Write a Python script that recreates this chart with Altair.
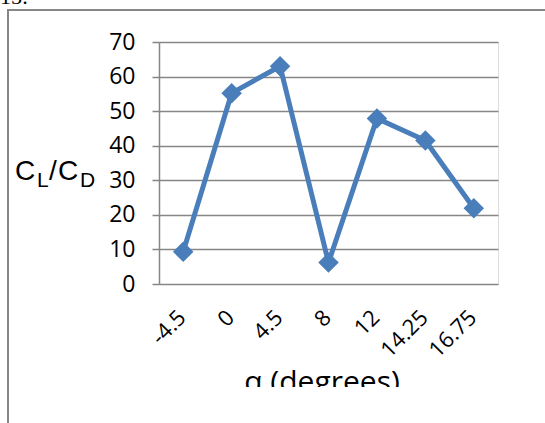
import altair as alt
import pandas as pd

alpha = ["-4.5", "0", "4.5", "8", "12", "14.25", "16.75"]
ratio = [9.3, 55.2, 63.0, 6.2, 47.9, 41.5, 21.9]
y_ticks = [0, 10, 20, 30, 40, 50, 60, 70]

df = pd.DataFrame({"alpha": alpha, "ratio": ratio})

FONT = "Open Sans"
GRAY = "#868686"
BLUE = "#4A7EBB"
W, H = 339, 242
BAND = W / len(alpha)

x_enc = alt.X(
    "alpha:N",
    sort=alpha,
    scale=alt.Scale(type="band", paddingInner=0, paddingOuter=0),
    axis=alt.Axis(
        title=None, tickBand="extent", grid=False, labels=False,
        domainColor=GRAY, domainWidth=1.5, tickColor=GRAY, tickWidth=1.5, tickSize=7,
    ),
)
y_enc = alt.Y(
    "ratio:Q",
    scale=alt.Scale(domain=[0, 70], nice=False, zero=True),
    axis=alt.Axis(
        title=None, values=y_ticks, grid=True, gridColor=GRAY, gridWidth=1.5,
        domainColor=GRAY, domainWidth=1.5, tickColor=GRAY, tickWidth=1.5, tickSize=7,
        labelFont=FONT, labelFontSize=23, labelColor="black", labelPadding=17,
    ),
)

base = alt.Chart(df)
line = base.mark_line(color=BLUE, strokeWidth=5).encode(x=x_enc, y=y_enc)
pts = base.mark_point(shape="diamond", filled=True, color=BLUE, size=420, opacity=1).encode(x=x_enc, y=y_enc)

xlabels = base.mark_text(
    font=FONT, fontSize=22, angle=315, align="right", baseline="alphabetic", color="black"
).encode(
    x=alt.X("alpha:N", sort=alpha, scale=alt.Scale(type="band", paddingInner=0, paddingOuter=0), axis=None),
    xOffset=alt.value(BAND / 2 + 4),
    y=alt.value(H + 35),
    text="alpha:N",
)

xtitle = alt.Chart(pd.DataFrame({"t": ["α (degrees)"]})).mark_text(
    font=FONT, fontSize=30, baseline="alphabetic", align="center", color="black"
).encode(text="t:N", x=alt.value(163), y=alt.value(350))

cover = alt.Chart(pd.DataFrame({"k": [0]})).mark_rect(color="white").encode(
    x=alt.value(-150), x2=alt.value(386), y=alt.value(345), y2=alt.value(381)
)

def txt(s, xx, yy, size):
    return alt.Chart(pd.DataFrame({"t": [s]})).mark_text(
        font="Liberation Sans", fontSize=size, baseline="alphabetic", align="left", color="black"
    ).encode(text="t:N", x=alt.value(xx), y=alt.value(yy))

ytitle = [
    txt("C", -144, 138, 28),
    txt("L", -122, 145, 21),
    txt("/", -110, 138, 28),
    txt("C", -101, 138, 28),
    txt("D", -79, 145, 21),
]

border_l = alt.Chart(pd.DataFrame({"k": [0]})).mark_rule(color=GRAY, strokeWidth=2).encode(
    x=alt.value(-151), y=alt.value(-33), y2=alt.value(381)
)
border_t = alt.Chart(pd.DataFrame({"k": [0]})).mark_rule(color=GRAY, strokeWidth=2).encode(
    x=alt.value(-152), x2=alt.value(386), y=alt.value(-32)
)
top_txt = alt.Chart(pd.DataFrame({"t": ["15:"]})).mark_text(
    font="Liberation Serif", fontSize=22, baseline="alphabetic", align="left", color="black"
).encode(text="t:N", x=alt.value(-159), y=alt.value(-38))

chart = alt.layer(
    line, pts, xlabels, xtitle, cover, *ytitle, border_l, border_t, top_txt
).properties(
    width=W, height=H,
    autosize=alt.AutoSizeParams(type="none"),
    padding={"left": 159, "top": 42, "right": 47, "bottom": 139},
).configure_view(stroke=None).configure(background="white")

chart.save("out.html", embed_options={"renderer": "svg", "actions": False})
